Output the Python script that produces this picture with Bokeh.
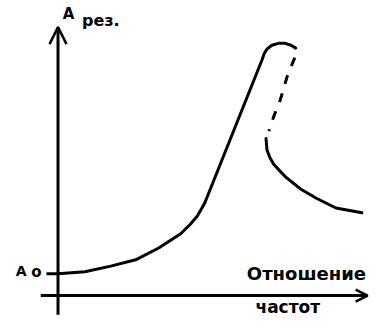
from bokeh.plotting import figure
from bokeh.models import Arrow, OpenHead, Range1d
from bokeh.core.properties import value
from bokeh.embed import file_html
from bokeh.resources import INLINE

# Resonance curve (schematic): amplitude vs. frequency ratio, arbitrary units
rise_x = [0.0, 2.8, 5.5, 8.2, 10.5, 12.8, 13.8, 14.5, 15.3, 21.3, 21.5, 21.8, 22.3, 23.0, 23.7, 24.3, 24.8]
rise_y = [2.3, 2.5, 3.1, 3.8, 5.0, 6.5, 7.5, 8.3, 9.7, 24.8, 25.4, 25.9, 26.3, 26.5, 26.5, 26.3, 26.0]

unstable_x = [24.7, 23.9, 23.2, 22.5, 22.0]
unstable_y = [25.0, 23.0, 20.6, 18.8, 17.3]

fall_x = [21.7, 21.8, 22.1, 22.5, 23.7, 25.3, 27.0, 29.0, 31.7]
fall_y = [16.5, 15.3, 14.5, 13.8, 12.5, 11.2, 10.2, 9.2, 8.7]

a0 = 2.3
y_label_main = "A"
y_label_sub = "рез."
a0_main = "A"
a0_sub = "o"
x_label_1 = "Отношение"
x_label_2 = "частот"

FONT = value("DejaVu Sans")

p = figure(width=370, height=317, output_backend="svg", toolbar_location=None,
           x_range=Range1d(-6.0, 32.6), y_range=Range1d(-2.3, 31.0),
           min_border=0, background_fill_color="white", border_fill_color="white")
p.axis.visible = False
p.grid.visible = False
p.outline_line_color = None

# axes (hand-drawn style arrows)
p.add_layout(Arrow(end=OpenHead(size=17, line_width=2.5, line_color="black"),
                   x_start=0, y_start=-2.0, x_end=0, y_end=28.2,
                   line_width=3, line_color="black"))
p.add_layout(Arrow(end=OpenHead(size=12, line_width=2.5, line_color="black"),
                   x_start=-1.8, y_start=0, x_end=32.3, y_end=0,
                   line_width=3, line_color="black"))

# A0 tick
p.segment(x0=[-1.2], y0=[a0], x1=[0], y1=[a0], line_width=3, line_color="black")

# curves
p.line(rise_x, rise_y, line_width=3, line_color="black", line_join="round", line_cap="round")
p.line(unstable_x, unstable_y, line_width=3, line_color="black", line_dash="9 10")
p.line(fall_x, fall_y, line_width=3, line_color="black", line_join="round", line_cap="round")

# labels
p.text(x=[0.5], y=[29.6], text=[y_label_main], text_font=FONT, text_font_style="bold",
       text_font_size="15px", text_baseline="alphabetic", text_color="black")
p.text(x=[2.5], y=[28.85], text=[y_label_sub], text_font=FONT, text_font_style="bold",
       text_font_size="16px", text_baseline="alphabetic", text_color="black")
p.text(x=[-4.4], y=[2.6], text=[a0_main], text_font=FONT, text_font_style="bold",
       text_font_size="14px", text_baseline="alphabetic", text_color="black")
p.text(x=[-2.8], y=[2.45], text=[a0_sub], text_font=FONT, text_font_style="bold",
       text_font_size="15px", text_baseline="alphabetic", text_color="black")
p.text(x=[19.7], y=[2.3], text=[x_label_1], text_font=FONT, text_font_style="bold",
       text_font_size="18px", text_baseline="alphabetic", text_color="black")
p.text(x=[20.6], y=[-1.2], text=[x_label_2], text_font=FONT, text_font_style="bold",
       text_font_size="17px", text_baseline="alphabetic", text_color="black")

open("out.html", "w").write(file_html(p, INLINE))
